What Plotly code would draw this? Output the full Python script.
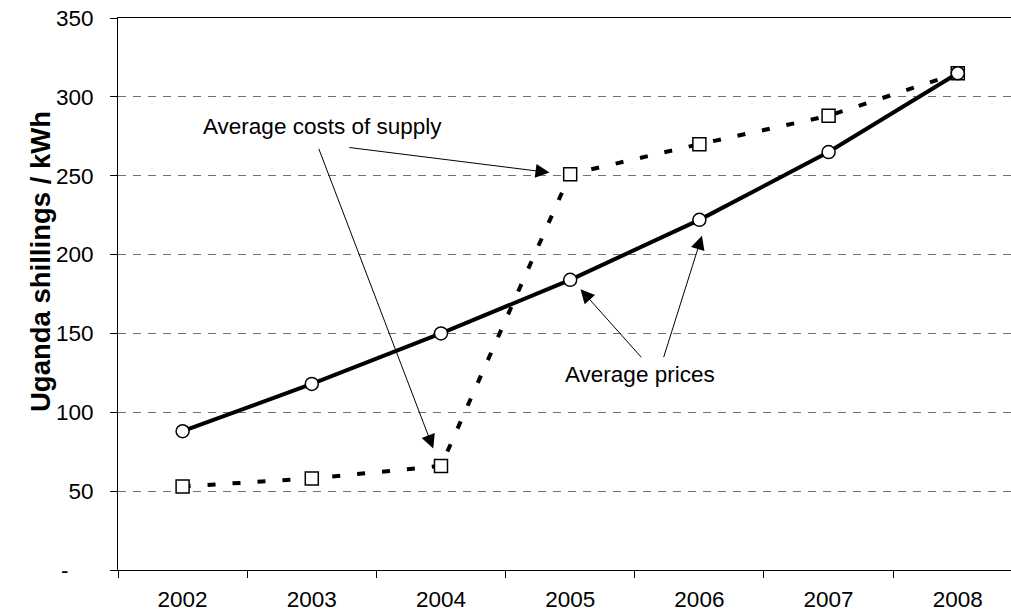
import plotly.graph_objects as go

# Series
years = ["2002", "2003", "2004", "2005", "2006", "2007", "2008"]
avg_prices = [88, 118, 150, 184, 222, 265, 315]
avg_costs = [53, 58, 66, 251, 270, 288, 315]

# Y axis ticks (zero shown as an accounting dash)
y_tickvals = [0, 50, 100, 150, 200, 250, 300, 350]
y_ticktext = ["-" + "\u00a0" * 4, "50", "100", "150", "200", "250", "300", "350"]

FONT = "Arial, Liberation Sans, sans-serif"

fig = go.Figure()

fig.add_trace(go.Scatter(
    x=years, y=avg_costs, mode="lines+markers", name="Average costs of supply",
    line=dict(color="black", width=4, dash="8px,17px"),
    marker=dict(symbol="square", size=13, color="white",
                line=dict(color="black", width=1.5)),
    cliponaxis=False,
))
fig.add_trace(go.Scatter(
    x=years, y=avg_prices, mode="lines+markers", name="Average prices",
    line=dict(color="black", width=4),
    marker=dict(symbol="circle", size=13, color="white",
                line=dict(color="black", width=1.5)),
    cliponaxis=False,
))

# Callout labels and their arrows (tail -> tip, in axis units)
labels = [
    ("Average costs of supply", 1.08, 281),
    ("Average prices", 3.54, 124),
]
arrows = [
    ((1.28, 268), (2.84, 252)),
    ((1.05, 268), (1.94, 77)),
    ((3.56, 134), (3.08, 178)),
    ((3.72, 134), (4.02, 212)),
]
for text, lx, ly in labels:
    fig.add_annotation(x=lx, y=ly, text=text, showarrow=False,
                       font=dict(family=FONT, size=22.5, color="black"))
for (tx, ty), (hx, hy) in arrows:
    fig.add_annotation(x=hx, y=hy, ax=tx, ay=ty, axref="x", ayref="y",
                       text="", showarrow=True, arrowhead=2, arrowsize=2.8,
                       arrowwidth=1, arrowcolor="black")

# Axis title
fig.add_annotation(x=0, y=0.5, xref="paper", yref="paper",
                   xanchor="center", yanchor="middle", xshift=-78, yshift=32,
                   text="<b>Uganda shillings / kWh</b>", textangle=-90,
                   showarrow=False, font=dict(family=FONT, size=27.5, color="black"))

fig.update_xaxes(
    type="category", range=[-0.5, 6.412],
    showline=True, linecolor="black", linewidth=1, mirror=True,
    ticks="outside", ticklen=7, tickcolor="black", tickwidth=1,
    tickson="boundaries", ticklabelstandoff=9,
    showgrid=False, zeroline=False,
    tickfont=dict(family=FONT, size=22.5, color="black"),
)
fig.update_yaxes(
    range=[0, 350], tickvals=y_tickvals, ticktext=y_ticktext,
    showline=True, linecolor="black", linewidth=1,
    ticks="outside", ticklen=7, tickcolor="black", tickwidth=1,
    ticklabelstandoff=12,
    showgrid=True, gridcolor="#707070", gridwidth=1, griddash="8px,7px",
    zeroline=False,
    tickfont=dict(family=FONT, size=22.5, color="black"),
)

fig.update_layout(
    width=1011, height=614,
    margin=dict(l=118, r=0, t=18, b=44),
    plot_bgcolor="white", paper_bgcolor="white",
    showlegend=False,
)

fig.write_html("out.html")
